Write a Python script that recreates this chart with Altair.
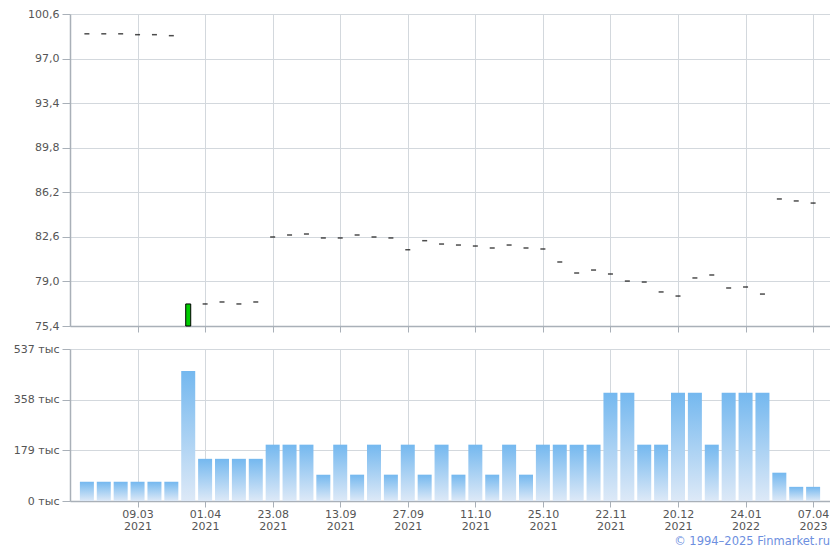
import altair as alt
import pandas as pd

# ---- data ----
idx = list(range(44))
close = [99.0, 99.0, 99.0, 98.93, 98.93, 98.85,
         77.18, 77.18, 77.34, 77.18, 77.34,
         82.59, 82.75, 82.83, 82.51, 82.51, 82.75, 82.59, 82.51, 81.56,
         82.29, 82.02, 81.94, 81.86, 81.70, 81.94, 81.70, 81.62,
         80.57, 79.68, 79.92, 79.60, 79.03, 78.95, 78.15, 77.82,
         79.28, 79.52, 78.47, 78.55, 77.98, 85.66, 85.50, 85.33]
open_ = list(close)
open_[6] = 75.4
volume = ([68] * 6 + [459] + [149] * 4 + [199] * 3 +
          [93, 199, 93, 199, 93, 199, 93, 199, 93, 199, 93, 199, 93] +
          [199] * 4 +
          [382, 382, 199, 199, 382, 382, 199, 382, 382, 382, 100, 50, 50])
tick_pos = [3, 7, 11, 15, 19, 23, 27, 31, 35, 39, 43]
tick_labels = ["09.03|2021", "01.04|2021", "23.08|2021", "13.09|2021", "27.09|2021",
               "11.10|2021", "25.10|2021", "22.11|2021", "20.12|2021", "24.01|2022",
               "07.04|2023"]
price_ticks = [75.4, 79.0, 82.6, 86.2, 89.8, 93.4, 97.0, 100.6]
vol_ticks = [0, 179, 358, 537]

df = pd.DataFrame({"i": idx, "open": open_, "close": close, "vol": volume})
df["doji"] = df["open"] == df["close"]

W = 760
GRID = "#d3d8dd"
DOMAIN = "#a9b0b8"
LABEL = "#555555"
FONT = "DejaVu Sans"

xscale = alt.Scale(domain=[-1, 44], nice=False, zero=False, padding=0)
label_expr = "split(" + str(tick_labels).replace('"', "'") + "[round((datum.value - 3) / 4)], '|')"

x_top = alt.X("i:Q", scale=xscale, title=None,
              axis=alt.Axis(values=tick_pos, labels=False, grid=True, ticks=True, tickSize=6,
                            gridColor=GRID, domainColor=DOMAIN, tickColor=DOMAIN))
y_top = alt.Y("close:Q", scale=alt.Scale(domain=[75.4, 100.6], nice=False, zero=False, padding=0),
              title=None,
              axis=alt.Axis(values=price_ticks, gridColor=GRID, domainColor=DOMAIN, tickColor=DOMAIN,
                            tickSize=8, labelPadding=3,
                            labelExpr="replace(format(datum.value, '.1f'), '.', ',')"))

ticks = alt.Chart(df).transform_filter("datum.doji").mark_tick(
    orient="horizontal", size=5, thickness=1.5, color="black"
).encode(x=x_top, y=y_top)

bodies = alt.Chart(df).transform_filter("!datum.doji").mark_bar(
    size=5, color="#00cc00", stroke="black", strokeWidth=1
).encode(x=x_top, y=alt.Y("open:Q"), y2="close:Q")

top = alt.layer(ticks, bodies).properties(width=W, height=312)

x_bot = alt.X("i:Q", scale=xscale, title=None,
              axis=alt.Axis(values=tick_pos, grid=True, ticks=True, tickSize=6,
                            gridColor=GRID, domainColor=DOMAIN, tickColor=DOMAIN,
                            labelExpr=label_expr, labelLineHeight=12, labelPadding=1))
y_bot = alt.Y("vol:Q", scale=alt.Scale(domain=[0, 537], nice=False), title=None,
              axis=alt.Axis(values=vol_ticks, gridColor=GRID, domainColor=DOMAIN, tickColor=DOMAIN,
                            tickSize=8, labelPadding=3,
                            labelExpr="datum.value + ' тыс'"))

grad = alt.Gradient(gradient="linear",
                    stops=[alt.GradientStop(color="#dde9f7", offset=0),
                           alt.GradientStop(color="#74b8ef", offset=1)],
                    x1=1, x2=1, y1=1, y2=0)

bars = alt.Chart(df).mark_bar(size=14, color=grad).encode(x=x_bot, y=y_bot)

copy = alt.Chart(pd.DataFrame({"t": ["© 1994–2025 Finmarket.ru"]})).mark_text(
    align="right", baseline="middle", color="#6d8fe0", font=FONT, fontSize=11.5
).encode(text="t:N", x=alt.value(W), y=alt.value(193))

bottom = alt.layer(bars, copy).properties(width=W, height=152)

chart = alt.vconcat(top, bottom, spacing=10).configure_view(stroke=None).configure_axis(
    labelFont=FONT, labelFontSize=11, labelColor=LABEL, domainWidth=1.5
).properties(padding={"left": 5, "top": 0, "right": 0, "bottom": 0})

chart.save("out.html", embed_options={"renderer": "svg", "actions": False})
